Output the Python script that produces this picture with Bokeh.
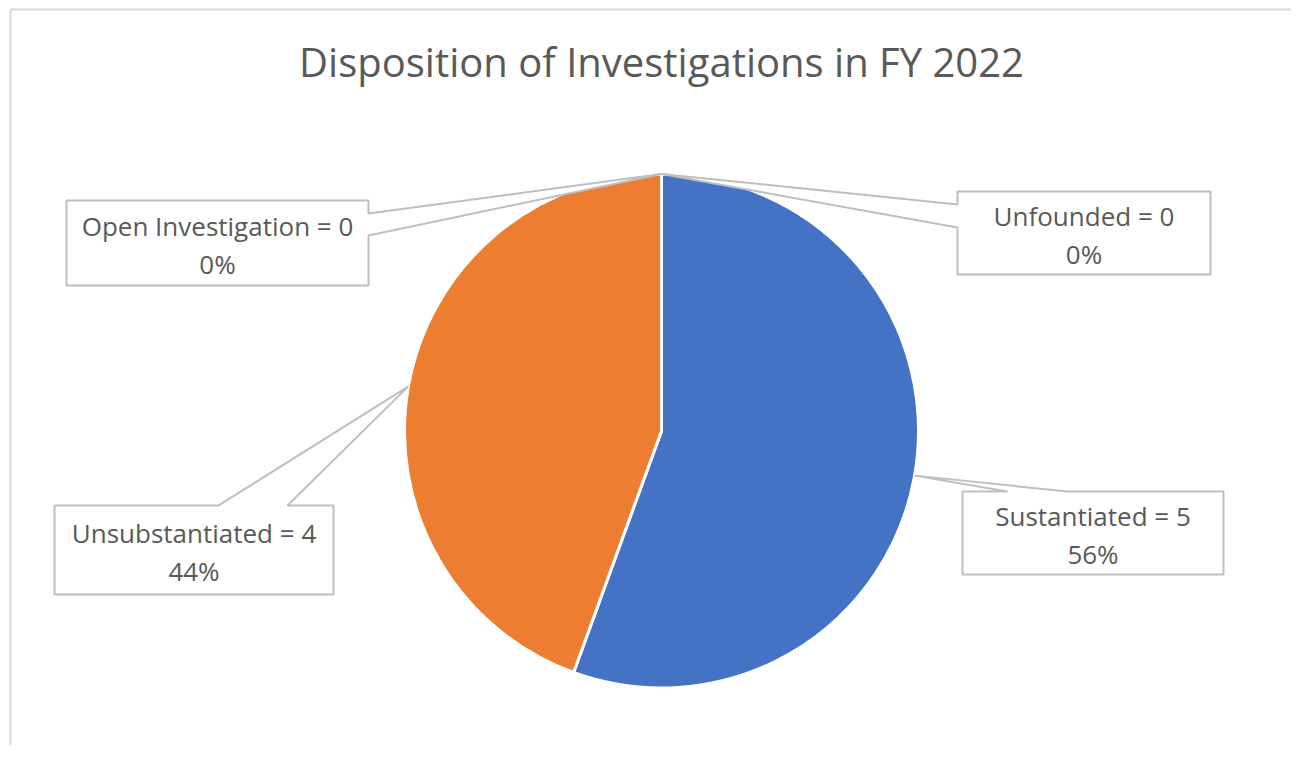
import math
from bokeh.plotting import figure
from bokeh.models import Range1d
from bokeh.core.properties import value
from bokeh.embed import file_html
from bokeh.resources import INLINE

# ---- data ----
title_text = "Disposition of Investigations in FY 2022"
categories = ["Sustantiated", "Unsubstantiated", "Open Investigation", "Unfounded"]
counts = [5, 4, 0, 0]
colors = ["#4472C4", "#ED7D31", "#A5A5A5", "#FFC000"]

# ---- layout (pixel space, y measured from top) ----
W, H = 1291, 745

def fy(y_px):
    return H - y_px

cx, cy_px, R = 661, 430.5, 257
FONT = "Open Sans"
TXT = "#595959"
GRID = "#BFBFBF"

# callout boxes: (left, top, right, bottom, pointer side, base1, base2)
boxes = {
    "Sustantiated": (962, 491, 1223, 574, "top", 1007, 1067),
    "Unsubstantiated": (54, 505, 333, 594, "top", 218, 287),
    "Open Investigation": (66, 200, 368, 285, "right", 213, 235),
    "Unfounded": (957, 191, 1210, 274, "left", 204, 227),
}

p = figure(width=W, height=H, output_backend="svg", toolbar_location=None,
           x_range=Range1d(0, W), y_range=Range1d(0, H),
           min_border=0, background_fill_color="white", border_fill_color="white")
p.axis.visible = False
p.grid.visible = False
p.outline_line_color = None

# chart border (left and top visible in reference)
p.segment(x0=[10, 10], y0=[fy(9), fy(9)], x1=[10, W], y1=[fy(H), fy(9)],
          line_color="#D9D9D9", line_width=2)

# ---- pie ----
total = sum(counts)
start = math.pi / 2
starts, ends, mids = [], [], []
for c in counts:
    sweep = 2 * math.pi * c / total
    starts.append(start)
    ends.append(start - sweep)
    mids.append(start - sweep / 2)
    start -= sweep

vis = [i for i, c in enumerate(counts) if c > 0]
p.wedge(x=[cx] * len(vis), y=[fy(cy_px)] * len(vis), radius=R,
        start_angle=[starts[i] for i in vis], end_angle=[ends[i] for i in vis],
        direction="clock", fill_color=[colors[i] for i in vis],
        line_color="white", line_width=3)

# ---- callouts ----
for i, cat in enumerate(categories):
    l, t, r, b, side, b1, b2 = boxes[cat]
    ax = cx + R * math.cos(mids[i])
    ay = fy(cy_px) + R * math.sin(mids[i])
    T, B = fy(t), fy(b)
    if side == "top":
        xs = [l, b1, ax, b2, r, r, l]
        ys = [T, T, ay, T, T, B, B]
    elif side == "right":
        xs = [l, r, r, ax, r, r, l]
        ys = [T, T, fy(b1), ay, fy(b2), B, B]
    else:  # left
        xs = [l, r, r, l, l, ax, l]
        ys = [T, T, B, B, fy(b2), ay, fy(b1)]
    p.patch(xs, ys, fill_color="white", line_color=GRID, line_width=2)
    pct = round(100 * counts[i] / total)
    mx = (l + r) / 2
    my = (t + b) / 2
    p.text(x=[mx, mx], y=[fy(my - 17.5), fy(my + 20.5)],
           text=[f"{cat} = {counts[i]}", f"{pct}%"],
           text_align="center", text_baseline="alphabetic",
           text_font=value(FONT), text_font_size="26px", text_color=TXT)

# ---- title ----
p.text(x=[661], y=[fy(61)], text=[title_text], text_align="center",
       text_baseline="alphabetic", text_font=value(FONT), text_font_size="40px",
       text_color=TXT)

open("out.html", "w").write(file_html(p, INLINE))
